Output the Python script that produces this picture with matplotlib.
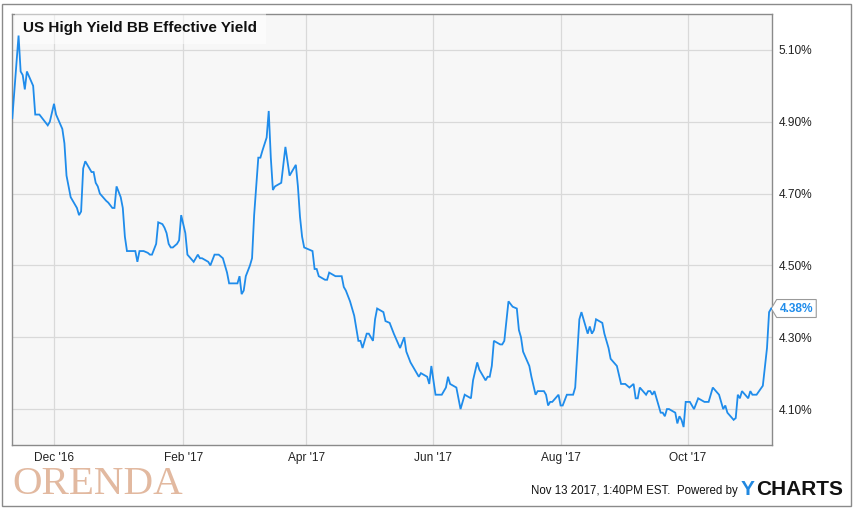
import numpy as np
import pandas as pd
import matplotlib
matplotlib.use("Agg")
import matplotlib.pyplot as plt
import matplotlib.dates as mdates
from matplotlib.path import Path
from matplotlib.patches import Rectangle

plt.rcParams['font.family'] = ['Liberation Sans', 'DejaVu Sans']

# data: day offset from 2016-12-01, yield in %
base_date = "2016-12-01"
day_offset = [-20, -17, -16, -15, -14, -13, -10, -9, -7, -5, -3, -2, 0, 1, 4, 5, 6, 8,
              10, 11, 12, 13, 14, 15, 18, 19, 20, 21, 22, 25, 26, 28, 29, 30, 32, 33,
              34, 35, 39, 40, 41, 43, 45, 46, 47, 49, 50, 52, 53, 54, 55, 56, 57, 59,
              60, 61, 63, 64, 67, 69, 70, 71, 74, 75, 77, 79, 81, 83, 84, 88, 89, 90,
              91, 92, 94, 95, 96, 98, 99, 100, 102, 103, 104, 105, 106, 109, 111, 113,
              116, 117, 118, 119, 120, 124, 125, 126, 127, 130, 131, 132, 135, 138,
              139, 140, 142, 144, 146, 147, 148, 150, 151, 153, 154, 155, 158, 159,
              161, 163, 166, 168, 169, 171, 173, 175, 176, 179, 180, 181, 183, 186,
              188, 189, 190, 193, 195, 197, 200, 201, 203, 204, 207, 208, 209, 210,
              211, 214, 215, 216, 218, 220, 222, 223, 224, 225, 228, 229, 231, 232,
              235, 236, 237, 238, 239, 242, 243, 244, 246, 249, 250, 252, 253, 256,
              257, 258, 259, 260, 263, 264, 266, 267, 270, 272, 274, 276, 278, 279,
              280, 281, 284, 285, 286, 287, 288, 291, 292, 293, 294, 295, 298, 299,
              300, 301, 302, 303, 305, 307, 309, 312, 314, 316, 319, 321, 322, 323,
              326, 327, 328, 329, 330, 333, 334, 335, 337, 340, 342, 343, 344]
yield_pct = [4.91, 5.14, 5.04, 5.03, 4.99, 5.04, 5.00, 4.92, 4.92, 4.905, 4.89, 4.90,
             4.95, 4.92, 4.88, 4.84, 4.75, 4.69, 4.67, 4.66, 4.64, 4.65, 4.77, 4.79,
             4.76, 4.76, 4.73, 4.72, 4.70, 4.68, 4.675, 4.66, 4.66, 4.72, 4.69, 4.66,
             4.58, 4.54, 4.54, 4.51, 4.54, 4.54, 4.535, 4.53, 4.53, 4.56, 4.62, 4.615,
             4.605, 4.59, 4.56, 4.55, 4.55, 4.56, 4.57, 4.64, 4.59, 4.53, 4.51, 4.53,
             4.52, 4.52, 4.51, 4.50, 4.53, 4.53, 4.52, 4.48, 4.45, 4.45, 4.47, 4.42,
             4.43, 4.47, 4.50, 4.52, 4.64, 4.80, 4.80, 4.82, 4.856, 4.93, 4.80, 4.71,
             4.72, 4.73, 4.83, 4.75, 4.78, 4.72, 4.635, 4.58, 4.55, 4.54, 4.49, 4.49,
             4.47, 4.46, 4.46, 4.48, 4.47, 4.47, 4.44, 4.43, 4.40, 4.36, 4.29, 4.29,
             4.27, 4.31, 4.31, 4.29, 4.35, 4.38, 4.37, 4.345, 4.34, 4.31, 4.27, 4.30,
             4.26, 4.23, 4.21, 4.19, 4.20, 4.19, 4.17, 4.22, 4.14, 4.14, 4.16, 4.19,
             4.17, 4.16, 4.10, 4.14, 4.13, 4.18, 4.23, 4.21, 4.18, 4.19, 4.19, 4.22,
             4.29, 4.28, 4.28, 4.29, 4.40, 4.385, 4.38, 4.32, 4.30, 4.26, 4.22, 4.19,
             4.14, 4.15, 4.15, 4.14, 4.11, 4.12, 4.12, 4.14, 4.11, 4.11, 4.14, 4.14,
             4.16, 4.35, 4.37, 4.31, 4.33, 4.31, 4.32, 4.35, 4.34, 4.31, 4.27, 4.24,
             4.22, 4.17, 4.17, 4.16, 4.17, 4.13, 4.13, 4.16, 4.14, 4.15, 4.15, 4.14,
             4.15, 4.09, 4.09, 4.08, 4.10, 4.10, 4.09, 4.06, 4.08, 4.07, 4.05, 4.12,
             4.12, 4.10, 4.13, 4.12, 4.12, 4.16, 4.14, 4.10, 4.11, 4.09, 4.07, 4.075,
             4.14, 4.13, 4.15, 4.13, 4.15, 4.14, 4.14, 4.165, 4.27, 4.37, 4.38]

y_ticks = [4.10, 4.30, 4.50, 4.70, 4.90, 5.10]
x_ticks = ["2016-12-01", "2017-02-01", "2017-04-01", "2017-06-01", "2017-08-01", "2017-10-01"]

title = "US High Yield BB Effective Yield"
stamp = "Nov 13 2017, 1:40PM EST.  Powered by"

base = pd.Timestamp(base_date)
dates = base + pd.to_timedelta(day_offset, unit="D")

fig = plt.figure(figsize=(8.6, 5.11), dpi=100)
ax = fig.add_axes([12.3 / 860, 66 / 511, (772 - 12.3) / 860, (445 - 14) / 511])
ax.set_facecolor("#f7f7f7")

ax.plot(dates, yield_pct, color="#1f8ceb", lw=1.3, solid_joinstyle="miter", zorder=4)

ax.set_xlim(base - pd.Timedelta(days=20), base + pd.Timedelta(days=344.4))
ax.set_ylim(4.0, 5.2)
ax.set_yticks(y_ticks)
ax.yaxis.set_major_formatter(plt.FuncFormatter(lambda v, p: f"{v:.2f}%"))
ax.set_xticks(pd.to_datetime(x_ticks))
ax.xaxis.set_major_formatter(mdates.DateFormatter("%b '%y"))
ax.yaxis.tick_right()
ax.tick_params(axis="both", length=0, labelsize=8.6, colors="#222222")
ax.tick_params(axis="y", pad=5)
ax.tick_params(axis="x", pad=5)
ax.grid(True, color="#d9d9d9", lw=0.9)
ax.set_axisbelow(True)
for s in ax.spines.values():
    s.set_color("#8a8a8a")
    s.set_linewidth(1.0)

ax.text(11 / 760, 0.967, title, transform=ax.transAxes, fontsize=11, fontweight="bold",
        color="#111111", ha="left", va="center", zorder=3,
        bbox=dict(boxstyle="square,pad=0.55", fc="white", ec="none", alpha=0.5))


def tag_box(x0, y0, width, height, mutation_size):
    pad = mutation_size * 0.25
    width = width + 2 * pad
    height = height + 2 * pad
    x0, y0 = x0 - pad, y0 - pad
    x1, y1 = x0 + width, y0 + height
    return Path([(x0, y0), (x1, y0), (x1, y1), (x0, y1),
                 (x0 - height * 0.3, (y0 + y1) / 2), (x0, y0), (x0, y0)], closed=True)


ax.annotate(f"{yield_pct[-1]:.2f}%", xy=(1.0, yield_pct[-1]),
            xycoords=("axes fraction", "data"), xytext=(5.5, 0), textcoords="offset points",
            ha="left", va="center", fontsize=8.6, fontweight="bold", color="#1f8ceb",
            annotation_clip=False,
            bbox=dict(boxstyle=tag_box, fc="white", ec="#9a9a9a", lw=0.8))

fig.text(12 / 860, 1 - 484 / 511, "ORENDA", family="Liberation Serif", fontsize=29.5,
         color="#e2b9a0", ha="left", va="center")
fig.text(738 / 860, 1 - 491 / 511, stamp, fontsize=8.3, color="#111111",
         ha="right", va="center")
fig.text(741 / 860, 1 - 489 / 511, "Y", fontsize=15, fontweight="bold", color="#2188e0",
         ha="left", va="center")
fig.text(756 / 860, 1 - 489 / 511, "CHARTS", fontsize=15, fontweight="bold",
         color="#111111", ha="left", va="center")

fig.patches.append(Rectangle((2 / 860, 5 / 511), 849 / 860, 502 / 511,
                             transform=fig.transFigure, fill=False, ec="#8a8a8a", lw=1.0))

fig.savefig("out.png", dpi=100)
